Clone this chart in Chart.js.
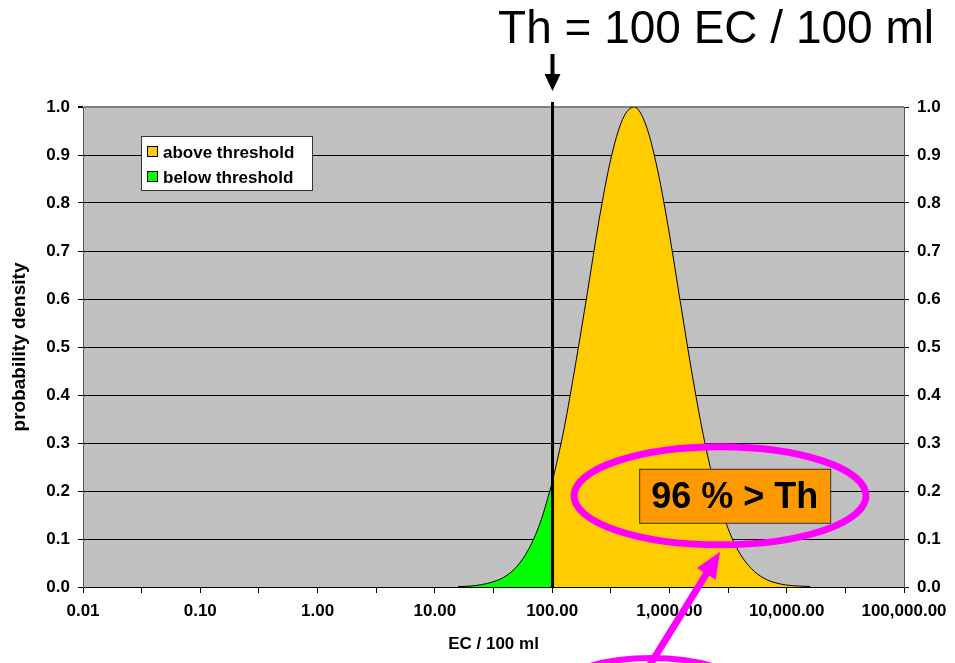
<!DOCTYPE html>
<html>
<head>
<meta charset="utf-8">
<script src="https://cdn.jsdelivr.net/npm/chart.js@4.4.0/dist/chart.umd.min.js"></script>
<style>
  html, body { margin: 0; padding: 0; background: #fff; }
  #wrap { width: 955px; height: 663px; position: relative; }
</style>
</head>
<body>
<div id="wrap"><canvas id="chart" width="955" height="663"></canvas></div>
<script>
// EC / 100 ml (log axis) and the probability density
const ecValues = [15.8, 20, 25.1, 31.6, 39.8, 50.1, 63.1, 79.4, 100, 126, 158, 200, 251, 316, 398, 501,
                  631, 794, 1000, 1259, 1585, 1995, 2512, 3162, 3981, 5012, 6310, 7943, 10000, 12589, 15849];
const density = [0.001, 0.002, 0.005, 0.011, 0.022, 0.043, 0.079, 0.135, 0.217, 0.328, 0.463, 0.614, 0.764, 0.891, 0.974, 1.0,
                 0.962, 0.868, 0.735, 0.583, 0.434, 0.303, 0.199, 0.122, 0.070, 0.038, 0.019, 0.009, 0.004, 0.002, 0.001];
const threshold = 100;
const seriesLabels = ['above threshold', 'below threshold'];
const xTickValues = [0.01, 0.1, 1, 10, 100, 1000, 10000, 100000];
const xTickLabels = ['0.01', '0.10', '1.00', '10.00', '100.00', '1,000.00', '10,000.00', '100,000.00'];
const titleText = 'Th = 100 EC / 100 ml';
const noteText = '96 % > Th';

const FONT = '"Liberation Sans", Arial, Helvetica, sans-serif';
const ORANGE = '#FFCC00';
const GREEN = '#00FF00';
const MAGENTA = '#FF00FF';

const points = ecValues.map((x, i) => ({ x: x, y: density[i] }));
const below = points.filter(p => p.x <= threshold);
const above = points.filter(p => p.x >= threshold);

// ticks every half decade, labels only on the decades
const xTicks = [];
xTickValues.forEach((v, i) => {
    xTicks.push(v);
    if (i < xTickValues.length - 1) xTicks.push(v * Math.sqrt(10));
});

function xLabel(value) {
    for (let i = 0; i < xTickValues.length; i++) {
        if (Math.abs(value / xTickValues[i] - 1) < 1e-6) return xTickLabels[i];
    }
    return '';
}

const decorations = {
    id: 'decorations',
    beforeDraw(chart) {
        const a = chart.chartArea;
        const ctx = chart.ctx;
        ctx.save();
        ctx.fillStyle = '#C0C0C0';
        ctx.fillRect(a.left, a.top, a.right - a.left, a.bottom - a.top);
        ctx.restore();
    },
    afterDatasetsDraw(chart) {
        const a = chart.chartArea;
        const ctx = chart.ctx;
        const xs = chart.scales.x;
        const ys = chart.scales.y;
        ctx.save();

        // threshold line
        const tx = Math.round(xs.getPixelForValue(threshold)) + 0.5;
        ctx.strokeStyle = '#000';
        ctx.lineWidth = 3;
        ctx.beginPath();
        ctx.moveTo(tx, a.top - 5);
        ctx.lineTo(tx, a.bottom);
        ctx.stroke();

        // legend box
        const lx = a.left + 58, ly = a.top + 29, lw = 171, lh = 54;
        ctx.fillStyle = '#fff';
        ctx.fillRect(lx, ly, lw, lh);
        ctx.strokeStyle = '#333';
        ctx.lineWidth = 1;
        ctx.strokeRect(lx + 0.5, ly + 0.5, lw, lh);
        ctx.font = 'bold 17px ' + FONT;
        ctx.textBaseline = 'middle';
        [ORANGE, GREEN].forEach((c, i) => {
            const cy = ly + 16 + i * 25;
            ctx.fillStyle = c;
            ctx.fillRect(lx + 6, cy - 6, 11, 11);
            ctx.strokeStyle = '#000';
            ctx.strokeRect(lx + 6.5, cy - 5.5, 10, 10);
            ctx.fillStyle = '#000';
            ctx.fillText(seriesLabels[i], lx + 22, cy + 1);
        });

        // note box
        const bx = xs.getPixelForValue(3600), by = ys.getPixelForValue(0.19);
        const bw = 191, bh = 54;
        ctx.fillStyle = '#FF9900';
        ctx.fillRect(bx - bw / 2, by - bh / 2, bw, bh);
        ctx.strokeStyle = '#333';
        ctx.lineWidth = 1;
        ctx.strokeRect(bx - bw / 2 + 0.5, by - bh / 2 + 0.5, bw, bh);
        ctx.fillStyle = '#000';
        ctx.font = 'bold 36px ' + FONT;
        ctx.textAlign = 'center';
        ctx.fillText(noteText, bx, by + 2);

        // magenta ellipse
        const ex = xs.getPixelForValue(2700), ey = ys.getPixelForValue(0.19);
        ctx.strokeStyle = MAGENTA;
        ctx.lineWidth = 7;
        ctx.beginPath();
        ctx.ellipse(ex, ey, 146, 49, 0, 0, Math.PI * 2);
        ctx.stroke();

        // magenta arrow pointing at the ellipse
        const hx = ex, hy = ey + 56;
        const sx = 648, sy = 668;
        const ang = Math.atan2(hy - sy, hx - sx);
        const hl = 26;
        ctx.lineWidth = 7;
        ctx.beginPath();
        ctx.moveTo(sx, sy);
        ctx.lineTo(hx - Math.cos(ang) * (hl - 4), hy - Math.sin(ang) * (hl - 4));
        ctx.stroke();
        ctx.fillStyle = MAGENTA;
        ctx.beginPath();
        ctx.moveTo(hx, hy);
        ctx.lineTo(hx - Math.cos(ang) * hl + Math.sin(ang) * 11, hy - Math.sin(ang) * hl - Math.cos(ang) * 11);
        ctx.lineTo(hx - Math.cos(ang) * hl - Math.sin(ang) * 11, hy - Math.sin(ang) * hl + Math.cos(ang) * 11);
        ctx.closePath();
        ctx.fill();

        // second ellipse, cut off by the bottom edge
        ctx.lineWidth = 6;
        ctx.beginPath();
        ctx.ellipse(651, 706, 110, 48, 0, 0, Math.PI * 2);
        ctx.stroke();

        ctx.restore();
    },
    afterDraw(chart) {
        const ctx = chart.ctx;
        const tx = Math.round(chart.scales.x.getPixelForValue(threshold)) + 0.5;
        ctx.save();
        ctx.fillStyle = '#000';
        ctx.font = '46px ' + FONT;
        ctx.textAlign = 'right';
        ctx.textBaseline = 'alphabetic';
        ctx.fillText(titleText, 934, 43);

        // down arrow over the threshold
        ctx.strokeStyle = '#000';
        ctx.lineWidth = 4;
        ctx.beginPath();
        ctx.moveTo(tx, 54);
        ctx.lineTo(tx, 76);
        ctx.stroke();
        ctx.beginPath();
        ctx.moveTo(tx - 8, 74);
        ctx.lineTo(tx + 8, 74);
        ctx.lineTo(tx, 91);
        ctx.closePath();
        ctx.fill();
        ctx.restore();
    }
};

const tickFont = { family: FONT, size: 17, weight: 'bold' };

new Chart(document.getElementById('chart'), {
    type: 'line',
    data: {
        datasets: [{
            label: seriesLabels[1],
            data: below,
            backgroundColor: GREEN,
            borderColor: '#000',
            borderWidth: 1,
            fill: 'origin',
            pointRadius: 0,
            cubicInterpolationMode: 'monotone'
        }, {
            label: seriesLabels[0],
            data: above,
            backgroundColor: ORANGE,
            borderColor: '#000',
            borderWidth: 1,
            fill: 'origin',
            pointRadius: 0,
            cubicInterpolationMode: 'monotone'
        }]
    },
    options: {
        responsive: false,
        animation: false,
        layout: { padding: { top: 107, left: 0, right: 0, bottom: 0 } },
        plugins: { legend: { display: false }, tooltip: { enabled: false } },
        scales: {
            x: {
                type: 'logarithmic',
                min: 0.01,
                max: 100000,
                afterBuildTicks: scale => { scale.ticks = xTicks.map(v => ({ value: v })); },
                afterFit: scale => { scale.height = 76; },
                ticks: {
                    autoSkip: false,
                    maxRotation: 0,
                    padding: 8,
                    color: '#000',
                    font: tickFont,
                    callback: v => xLabel(v)
                },
                grid: { drawOnChartArea: false, drawTicks: true, tickLength: 6, color: '#000' },
                border: { color: '#000', width: 1 },
                title: {
                    display: true,
                    text: 'EC / 100 ml',
                    color: '#000',
                    font: tickFont,
                    padding: { top: 0, bottom: 8 }
                }
            },
            y: {
                position: 'left',
                min: 0,
                max: 1,
                afterFit: scale => { scale.width = 83; },
                ticks: { stepSize: 0.1, padding: 8, color: '#000', font: tickFont, callback: v => v.toFixed(1) },
                grid: {
                    color: c => (c.tick && c.tick.value >= 1) ? '#808080' : '#000',
                    lineWidth: c => (c.tick && c.tick.value >= 1) ? 2 : 1,
                    tickColor: '#000',
                    tickLength: 5
                },
                border: { color: '#555', width: 1 },
                title: {
                    display: true,
                    text: 'probability density',
                    color: '#000',
                    font: { family: FONT, size: 19, weight: 'bold' },
                    padding: { top: 8, bottom: 0 }
                }
            },
            y2: {
                position: 'right',
                min: 0,
                max: 1,
                afterFit: scale => { scale.width = 51; },
                ticks: { stepSize: 0.1, padding: 8, color: '#000', font: tickFont, callback: v => v.toFixed(1) },
                grid: { drawOnChartArea: false, tickColor: '#000', tickLength: 5 },
                border: { color: '#555', width: 1 }
            }
        }
    },
    plugins: [decorations]
});
</script>
</body>
</html>
